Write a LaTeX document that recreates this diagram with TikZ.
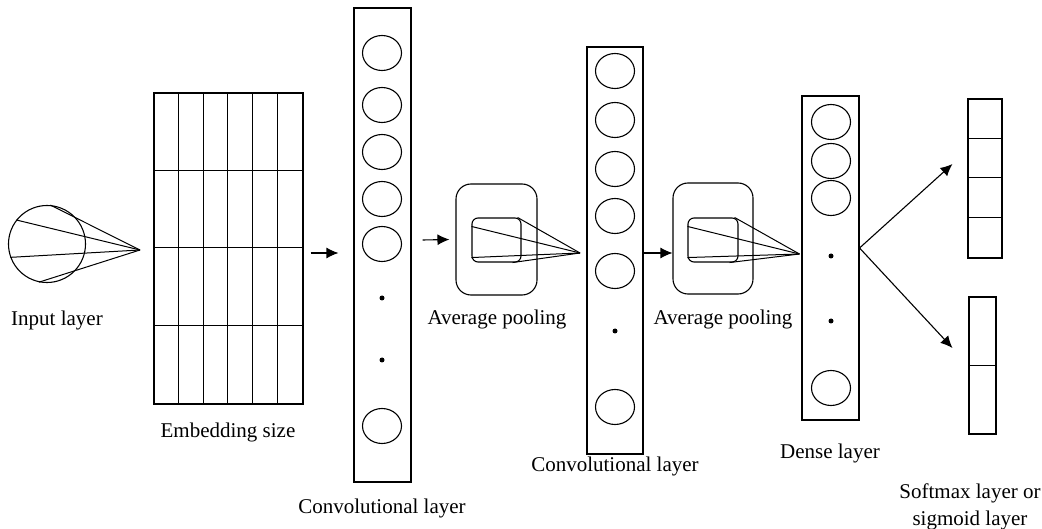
\documentclass[tikz,border=0pt]{standalone}
\usepackage{fontspec}
\setmainfont{Liberation Serif}
\usetikzlibrary{arrows.meta,calc,shapes.geometric}
\begin{document}
\begin{tikzpicture}[x=1pt,y=-1pt,
  line width=1.1pt,
  box/.style={draw,rectangle,inner sep=0pt,line width=1.1pt},
  neuron/.style={draw,ellipse,minimum width=39pt,minimum height=35pt,inner sep=0pt,line width=1.1pt},
  dotn/.style={fill,circle,minimum size=5pt,inner sep=0pt},
  poolbox/.style={draw,rectangle,rounded corners=15pt,inner sep=0pt,line width=1.1pt},
  innerbox/.style={draw,rectangle,rounded corners=6pt,inner sep=0pt,line width=1.1pt},
  lbl/.style={font=\fontsize{21}{27}\selectfont,inner sep=0pt,align=center},
  arr/.style={-{Latex[length=12pt,width=11pt]},line width=1.1pt},
  ray/.style={line width=1pt}
]
\useasboundingbox (0,0) rectangle (1042,529);

% input layer
\node[draw,circle,minimum size=77pt,inner sep=0pt,line width=1.1pt] (inp) at (47,244) {};
\coordinate (apex0) at (140,250);
\draw[ray] (inp.85) -- (apex0);
\draw[ray] (inp.142) -- (apex0);
\draw[ray] (inp.200) -- (apex0);
\draw[ray] (inp.258) -- (apex0);
\node[lbl] (inplbl) at (57,320) {Input layer};

% embedding grid
\node[box,minimum width=149pt,minimum height=311pt] (emb) at (228.5,248.5) {};
\foreach \i in {1,...,5} {
  \draw ($(emb.north west)+(\i*24.83,0)$) -- ($(emb.south west)+(\i*24.83,0)$);
}
\foreach \j in {1,2,3} {
  \draw ($(emb.north west)+(0,\j*77.75)$) -- ($(emb.north east)+(0,\j*77.75)$);
}
\node[lbl] (emblbl) at (228,432) {Embedding size};

% conv layer 1
\node[box,minimum width=57pt,minimum height=474pt] (conv1) at (382.5,245) {};
\foreach \y/\n in {53/a,105/b,152/c,199/d,244/e,426/f} {
  \node[neuron] (c1\n) at (382,\y) {};
}
\node[dotn] (c1d1) at (382,298) {};
\node[dotn] (c1d2) at (382,360) {};
\node[lbl] (conv1lbl) at (382,508) {Convolutional layer};

\draw[arr] ([shift={(7,4.5)}]emb.east) -- ([shift={(-15,8)}]conv1.west);

% pooling 1
\node[poolbox,minimum width=81pt,minimum height=111pt] (pool1) at (496.5,239.5) {};
\node[innerbox,minimum width=49pt,minimum height=44pt] (pin1) at (496.5,240) {};
\node[lbl] (pool1lbl) at (497,319) {Average pooling};
\draw[arr] ([shift={(11,-5)}]conv1.east) -- ([shift={(-6,0)}]pool1.west);

% conv layer 2
\node[box,minimum width=56pt,minimum height=407pt] (conv2) at (615,250.5) {};
\foreach \y/\n in {71/a,120/b,169/c,216/d,271/e,407/f} {
  \node[neuron] (c2\n) at (615,\y) {};
}
\node[dotn] (c2d1) at (615,331) {};
\node[lbl] (conv2lbl) at (615,466) {Convolutional layer};

\coordinate (apex1) at (580,253);
\draw[ray] ([shift={(0,9)}]pin1.north west) -- (apex1);
\draw[ray] ([shift={(0,-5)}]pin1.south west) -- (apex1);
\draw[ray] ([shift={(-4,0)}]pin1.north east) -- (apex1);
\draw[ray] ([shift={(-9,0)}]pin1.south east) -- (apex1);

% pooling 2
\node[poolbox,minimum width=80pt,minimum height=111pt] (pool2) at (713,238.5) {};
\node[innerbox,minimum width=50pt,minimum height=44pt] (pin2) at (713,240) {};
\node[lbl] (pool2lbl) at (723,319) {Average pooling};
\draw[arr] (conv2.east |- 0,253) -- (pool2.west |- 0,253);

% dense layer
\node[box,minimum width=57pt,minimum height=324pt] (dense) at (830.5,258) {};
\foreach \y/\n in {122/a,161/b,198/c,388/d} {
  \node[neuron] (d\n) at (831,\y) {};
}
\node[dotn] (dd1) at (831,256) {};
\node[dotn] (dd2) at (831,321) {};
\node[lbl] (denselbl) at (830,453) {Dense layer};

\coordinate (apex2) at ([shift={(-2,-4)}]dense.west);
\draw[ray] ([shift={(0,9)}]pin2.north west) -- (apex2);
\draw[ray] ([shift={(0,-5)}]pin2.south west) -- (apex2);
\draw[ray] ([shift={(-4,0)}]pin2.north east) -- (apex2);
\draw[ray] ([shift={(-9,0)}]pin2.south east) -- (apex2);

% output layers
\node[box,minimum width=34pt,minimum height=159pt] (soft) at (985,178.5) {};
\foreach \j in {1,2,3} {
  \draw ($(soft.north west)+(0,\j*39.75)$) -- ($(soft.north east)+(0,\j*39.75)$);
}
\node[box,minimum width=27pt,minimum height=137pt] (sig) at (982.5,365.5) {};
\draw (sig.west) -- (sig.east);
\node[lbl] (outlbl) at (970,506.5) {Softmax layer or\\sigmoid layer};

\coordinate (dsrc) at ([shift={(0,-10)}]dense.east);
\draw[arr] (dsrc) -- ([shift={(-15,-14.5)}]soft.west);
\draw[arr] (dsrc) -- ([shift={(-16,-17.5)}]sig.west);
\end{tikzpicture}
\end{document}
